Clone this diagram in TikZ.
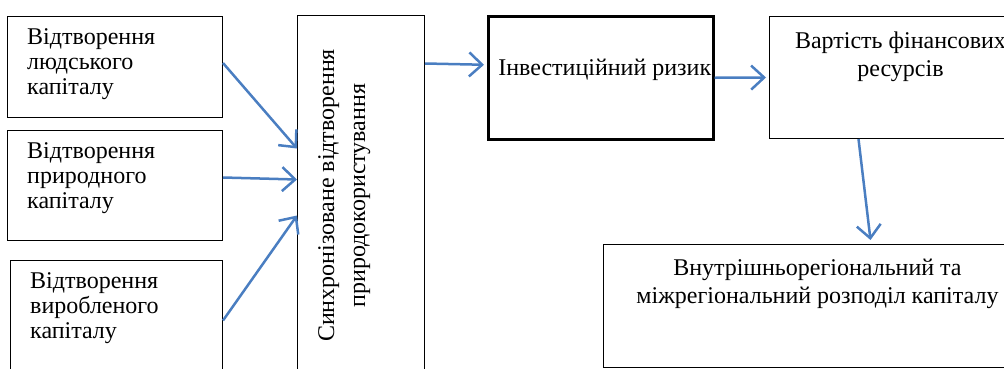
\documentclass[tikz,border=0pt]{standalone}
\usepackage{fontspec}
\setmainfont{Liberation Serif}
\usetikzlibrary{arrows.meta}
\definecolor{linkblue}{RGB}{74,126,193}
\tikzstyle{capbox} = [rectangle, draw=black, line width=1pt, anchor=north west, inner sep=0pt]
\tikzstyle{lefttext} = [anchor=north west, align=left, inner xsep=20pt, inner ysep=12pt, font=\fontsize{24}{25}\selectfont]
\tikzstyle{toptext} = [anchor=north, align=center, inner sep=12pt, font=\fontsize{24}{28}\selectfont]
\tikzstyle{arrow} = [linkblue, line width=2.5pt, -{Straight Barb[length=13pt,width=24pt]}]

\begin{document}
\begin{tikzpicture}[x=1pt,y=-1pt]
	\clip (0,0) rectangle (1004,368);

	% capital boxes on the left
	\node (human) [capbox, minimum width=215pt, minimum height=101pt,
		label={[lefttext]north west:Відтворення\\людського\\капіталу}] at (7,16) {};
	\node (natural) [capbox, minimum width=215pt, minimum height=110pt,
		label={[lefttext]north west:Відтворення\\природного\\капіталу}] at (7,130) {};
	\node (produced) [capbox, minimum width=212pt, minimum height=120pt,
		label={[lefttext]north west:Відтворення\\виробленого\\капіталу}] at (10,260) {};

	% synchronised box
	\node (sync) [capbox, minimum width=127pt, minimum height=360pt,
		label={[rotate=90, anchor=north, align=center, inner sep=21pt, font=\fontsize{24}{31}\selectfont]west:Синхронізоване відтворення\\природокористування}] at (297,15) {};

	% right part
	\node (invest) [capbox, line width=2.5pt, minimum width=225pt, minimum height=123pt,
		label={[toptext, inner sep=0pt, yshift=-44pt, xshift=4pt]north:Інвестиційний ризик}] at (487,15) {};
	\node (cost) [capbox, minimum width=262pt, minimum height=122pt,
		label={[toptext, yshift=-4pt]north:Вартість фінансових\\ресурсів}] at (769,16) {};
	\node (distrib) [capbox, minimum width=428pt, minimum height=123pt,
		label={[toptext, yshift=-3pt]north:Внутрішньорегіональний та\\міжрегіональний розподіл капіталу}] at (603,244) {};

	\draw [arrow] ([yshift=4pt]human.east) -- ([yshift=47pt]sync.west);
	\draw [arrow] ([yshift=8pt]natural.east) -- ([yshift=16pt]sync.west);
	\draw [arrow] (produced.east) -- ([yshift=-20pt]sync.west);
	\draw [arrow] ([yshift=132pt]sync.east) -- ([yshift=13pt, xshift=-3pt]invest.west);
	\draw [arrow] (invest.east) -- ([xshift=-3pt]cost.west);
	\draw [arrow] ([xshift=-42pt]cost.south) -- ([xshift=53pt, yshift=4pt]distrib.north);
\end{tikzpicture}
\end{document}
